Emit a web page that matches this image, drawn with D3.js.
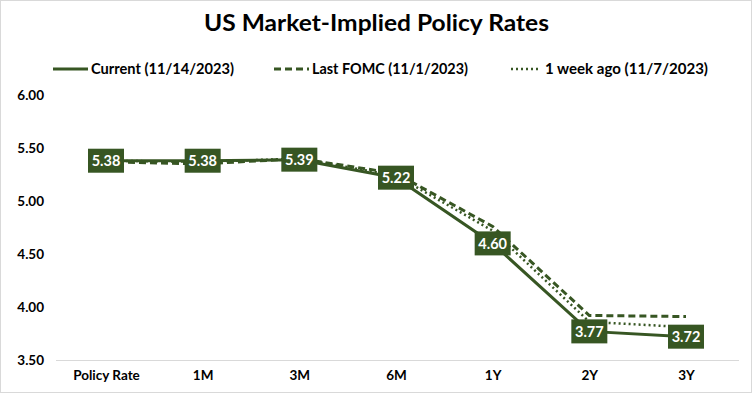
<!DOCTYPE html>
<html lang="en">
<head>
<meta charset="UTF-8">
<title>US Market-Implied Policy Rates</title>
<style>
    body { margin: 0; background: #fff; }
    text { font-family: Lato, "Open Sans", sans-serif; font-weight: bold; }
</style>
</head>
<body>
<svg width="752" height="393"></svg>
<script src="https://cdn.jsdelivr.net/npm/d3@7"></script>
<script>
    // tenors along the curve
    var tenors = ["Policy Rate", "1M", "3M", "6M", "1Y", "2Y", "3Y"];

    // implied rates per snapshot
    var current = [5.38, 5.38, 5.39, 5.22, 4.60, 3.77, 3.72];
    var lastFomc = [5.37, 5.35, 5.40, 5.26, 4.76, 3.92, 3.91];
    var weekAgo = [5.38, 5.37, 5.40, 5.24, 4.72, 3.86, 3.81];

    var yTicks = [3.5, 4.0, 4.5, 5.0, 5.5, 6.0];

    var green = "#375623";

    var svg = d3.select("svg"),
        W = 752, H = 393;

    // outer border
    svg.append("rect")
        .attr("x", 0.5).attr("y", 0.5)
        .attr("width", W - 1).attr("height", H - 1)
        .attr("fill", "#fff")
        .attr("stroke", "#d9d9d9");

    var x = d3.scalePoint()
        .domain(tenors)
        .range([106, 686]);

    var y = d3.scaleLinear()
        .domain([3.5, 6.0])
        .range([360, 95]);

    // title
    svg.append("text")
        .attr("x", 204)
        .attr("y", 31)
        .attr("textLength", 345)
        .attr("lengthAdjust", "spacingAndGlyphs")
        .style("font-size", "23px")
        .text("US Market-Implied Policy Rates");

    // baseline
    svg.append("line")
        .attr("x1", 56).attr("x2", 739)
        .attr("y1", y(3.5) + 0.5).attr("y2", y(3.5) + 0.5)
        .attr("stroke", "#d9d9d9");

    // y axis labels
    var yAxis = svg.append("g")
        .attr("transform", "translate(44,0)")
        .call(d3.axisLeft(y).tickValues(yTicks).tickSize(0).tickFormat(d3.format(".2f")));
    yAxis.select(".domain").remove();
    yAxis.selectAll("text")
        .attr("x", 0)
        .attr("dy", "0.35em")
        .style("font-size", "13.5px")
        .style("font-family", "Lato, sans-serif")
        .style("font-weight", "bold")
        .attr("fill", "#000");

    // x axis labels
    var xAxis = svg.append("g")
        .attr("transform", "translate(0," + 375 + ")")
        .call(d3.axisBottom(x).tickSize(0));
    xAxis.select(".domain").remove();
    xAxis.selectAll("text")
        .attr("y", 0)
        .attr("dy", "0.35em")
        .style("font-size", "13.5px")
        .style("font-family", "Lato, sans-serif")
        .style("font-weight", "bold")
        .attr("fill", "#000");

    var line = d3.line()
        .x(function(d, i) { return x(tenors[i]); })
        .y(function(d) { return y(d); });

    var series = [
        {name: "1 week ago (11/7/2023)", values: weekAgo, dash: "2,3", width: 2.5},
        {name: "Last FOMC (11/1/2023)", values: lastFomc, dash: "7,4", width: 3},
        {name: "Current (11/14/2023)", values: current, dash: null, width: 3}
    ];

    svg.selectAll(".series")
        .data(series)
        .enter()
        .append("path")
        .attr("class", "series")
        .attr("d", function(d) { return line(d.values); })
        .attr("fill", "none")
        .attr("stroke", green)
        .attr("stroke-width", function(d) { return d.width; })
        .attr("stroke-dasharray", function(d) { return d.dash; });

    // data labels on current curve
    var labels = svg.selectAll(".lbl")
        .data(current)
        .enter()
        .append("g")
        .attr("class", "lbl")
        .attr("transform", function(d, i) { return "translate(" + x(tenors[i]) + "," + y(d) + ")"; });

    labels.append("rect")
        .attr("x", -18).attr("y", -12)
        .attr("width", 36).attr("height", 24)
        .attr("fill", green);

    labels.append("text")
        .attr("text-anchor", "middle")
        .attr("dy", "0.36em")
        .attr("fill", "#fff")
        .style("font-size", "14.5px")
        .text(function(d) { return d.toFixed(2); });

    // legend
    var legendItems = [
        {name: "Current (11/14/2023)", dash: null, x0: 53, width: 3, tlen: 143},
        {name: "Last FOMC (11/1/2023)", dash: "7,4", x0: 274, width: 3, tlen: 156},
        {name: "1 week ago (11/7/2023)", dash: "2,3", x0: 511, width: 2.5, tlen: 163}
    ];

    var legend = svg.selectAll(".legend")
        .data(legendItems)
        .enter()
        .append("g")
        .attr("class", "legend")
        .attr("transform", function(d) { return "translate(" + d.x0 + ",69)"; });

    legend.append("line")
        .attr("x1", 0).attr("x2", function(d, i) { return i == 2 ? 29 : 35; })
        .attr("stroke", green)
        .attr("stroke-width", function(d) { return d.width; })
        .attr("stroke-dasharray", function(d) { return d.dash; });

    legend.append("text")
        .attr("x", function(d, i) { return i == 2 ? 34 : 38; })
        .attr("dy", "0.35em")
        .attr("textLength", function(d) { return d.tlen; })
        .attr("lengthAdjust", "spacingAndGlyphs")
        .style("font-size", "14.5px")
        .text(function(d) { return d.name; });
</script>
</body>
</html>
